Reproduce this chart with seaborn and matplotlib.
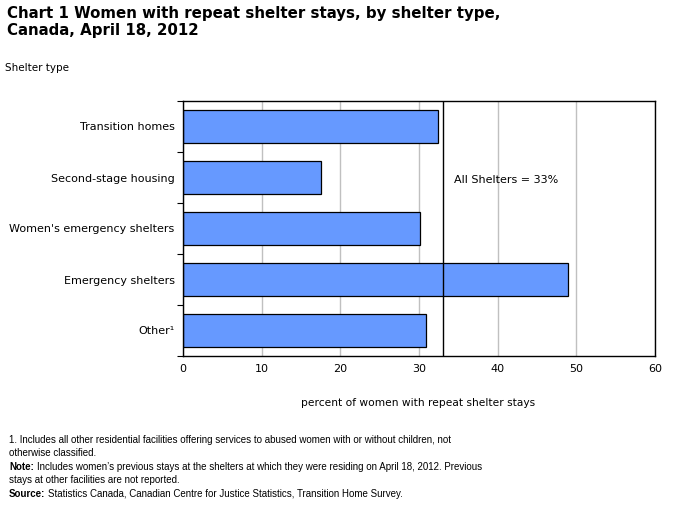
import matplotlib
matplotlib.use("Agg")
import matplotlib.pyplot as plt
import seaborn as sns
import pandas as pd
import numpy as np

categories = ["Transition homes", "Second-stage housing", "Women's emergency shelters",
              "Emergency shelters", "Other¹"]
values = [32.4, 17.6, 30.1, 48.9, 30.9]
all_shelters = 33
xticks = [0, 10, 20, 30, 40, 50, 60]

sns.set_theme(style="white")
plt.rcParams['font.family'] = ['DejaVu Sans']
plt.rcParams['text.color'] = 'black'
plt.rcParams['xtick.color'] = 'black'
plt.rcParams['ytick.color'] = 'black'
plt.rcParams['axes.labelcolor'] = 'black'

fig = plt.figure(figsize=(6.77, 5.13), dpi=100)
ax = fig.add_axes([183/677, 1-356/513, (655-183)/677, (356-101)/513])

df = pd.DataFrame({"cat": categories, "val": values})
sns.barplot(data=df, y="cat", x="val", orient="h", color="#6699FF", saturation=1,
            edgecolor="black", linewidth=0.9, width=0.66, ax=ax, zorder=2)

ax.set_xlim(0, 60)
ax.set_ylim(4.5, -0.5)
ax.set_xticks(xticks)
ax.set_xticklabels([str(t) for t in xticks], fontsize=8)
ax.tick_params(axis='x', length=0, pad=6)
ax.tick_params(axis='y', which='major', length=0, pad=6, labelsize=8)
ax.set_yticks(np.arange(-0.5, 5, 1), minor=True)
ax.tick_params(axis='y', which='minor', length=4, width=0.8, color='black', left=True, direction='out')
ax.set_ylabel("")
ax.set_xlabel("")
ax.xaxis.grid(True, color="#c0c0c0", linewidth=1, zorder=0)
ax.yaxis.grid(False)
ax.set_axisbelow(True)
for s in ax.spines.values():
    s.set_color("black")
    s.set_linewidth(1)

ax.axvline(all_shelters, color="black", linewidth=1, zorder=3)
ax.text(34.4, 1.05, f"All Shelters = {all_shelters}%", fontsize=8, va='center', ha='left')

fig.text(7/677, 1-22/513, "Chart 1 Women with repeat shelter stays, by shelter type,\nCanada, April 18, 2012",
         fontsize=10.8, fontweight='bold', va='center', ha='left', linespacing=1.15)
fig.text(5/677, 1-68/513, "Shelter type", fontsize=7.5, va='center', ha='left')
fig.text(418/677, 1-403/513, "percent of women with repeat shelter stays", fontsize=7.7, va='center', ha='center')

fam = ['Liberation Sans Narrow', 'Liberation Sans', 'DejaVu Sans']
fs = 7.0
fy = 440
fig.text(9/677, 1-fy/513, "1. Includes all other residential facilities offering services to abused women with or without children, not",
         fontsize=fs, va='center', ha='left', family=fam)
fig.text(9/677, 1-(fy+13)/513, "otherwise classified.", fontsize=fs, va='center', ha='left', family=fam)
fig.text(9/677, 1-(fy+40)/513, "stays at other facilities are not reported.", fontsize=fs, va='center', ha='left', family=fam)

note = fig.text(9/677, 1-(fy+27)/513, "Note:", fontsize=fs, va='center', ha='left', fontweight='bold', family=fam)
src = fig.text(9/677, 1-(fy+54)/513, "Source:", fontsize=fs, va='center', ha='left', fontweight='bold', family=fam)
fig.canvas.draw()
r = fig.canvas.get_renderer()
nx = note.get_window_extent(r).x1 + 3
sx = src.get_window_extent(r).x1 + 3
fig.text(nx/677, 1-(fy+27)/513, "Includes women’s previous stays at the shelters at which they were residing on April 18, 2012. Previous",
         fontsize=fs, va='center', ha='left', family=fam)
fig.text(sx/677, 1-(fy+54)/513, "Statistics Canada, Canadian Centre for Justice Statistics, Transition Home Survey.",
         fontsize=fs, va='center', ha='left', family=fam)

fig.savefig("out.png", dpi=100)
